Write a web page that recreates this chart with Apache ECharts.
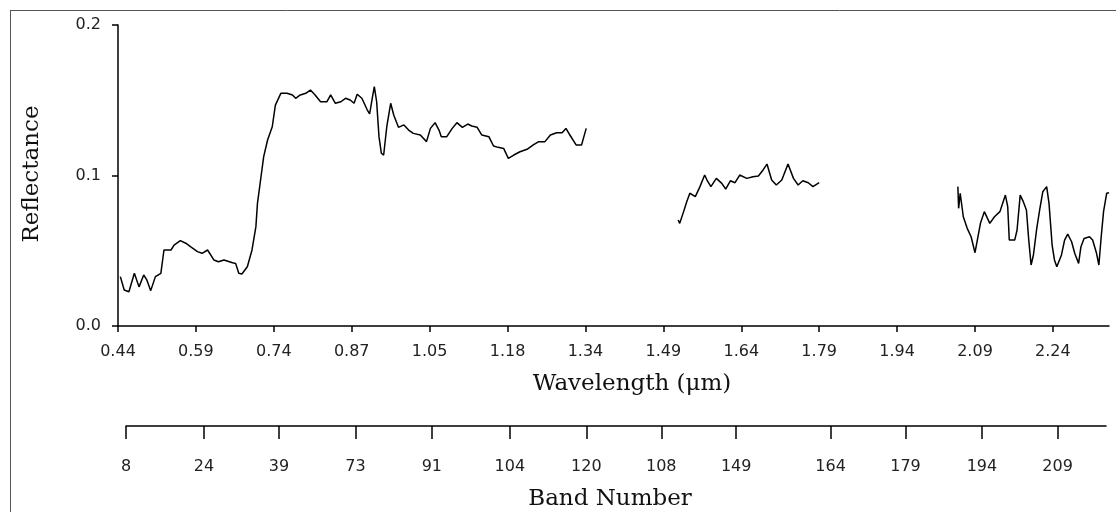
<!DOCTYPE html>
<html>
<head>
<meta charset="utf-8">
<script src="https://cdn.jsdelivr.net/npm/echarts@6/dist/echarts.min.js"></script>
<style>
html,body{margin:0;padding:0;background:#fff;}
#chart{width:1116px;height:512px;}
</style>
</head>
<body>
<div id="chart"></div>
<script>
// Wavelength tick labels (equally spaced positions 0..12 on the plot axis)
const wavelengthLabels = ['0.44','0.59','0.74','0.87','1.05','1.18','1.34','1.49','1.64','1.79','1.94','2.09','2.24'];
// Band number tick labels and their positions (in wavelength-tick units)
const bandLabels = ['8','24','39','73','91','104','120','108','149','164','179','194','209'];
const bandPos = [0.11,1.11,2.07,3.05,4.03,5.03,6.01,6.97,7.93,9.14,10.10,11.08,12.05];
const yTicks = [0, 0.1, 0.2];

// Segment 1 (VNIR/SWIR up to 1.34 µm)
const seg1X = [0.03,0.08,0.14,0.21,0.27,0.33,0.37,0.42,0.48,0.55,0.59,0.68,0.72,0.80,0.87,0.93,1.02,1.08,1.15,1.23,1.29,1.36,1.47,1.51,1.55,1.59,1.66,1.72,1.77,1.79,1.83,1.87,1.92,1.98,2.02,2.09,2.17,2.24,2.28,2.34,2.41,2.47,2.53,2.60,2.68,2.73,2.79,2.86,2.92,2.98,3.03,3.07,3.13,3.20,3.23,3.26,3.29,3.32,3.35,3.38,3.41,3.45,3.50,3.54,3.60,3.67,3.73,3.79,3.88,3.96,4.01,4.07,4.12,4.15,4.22,4.29,4.35,4.42,4.49,4.54,4.61,4.67,4.76,4.82,4.88,4.95,5.01,5.08,5.16,5.25,5.33,5.40,5.48,5.55,5.63,5.70,5.75,5.80,5.88,5.95,5.98,6.01];
const seg1Y = [0.0328,0.0239,0.0228,0.035,0.026,0.0339,0.0306,0.0235,0.0328,0.035,0.0505,0.0505,0.0538,0.0567,0.055,0.0527,0.0494,0.0483,0.0505,0.0439,0.0427,0.0439,0.042,0.0416,0.035,0.0346,0.0394,0.0505,0.066,0.0815,0.097,0.1125,0.1236,0.1324,0.1468,0.1546,0.1546,0.1535,0.1513,0.1535,0.1546,0.1568,0.1535,0.149,0.149,0.1535,0.148,0.149,0.1513,0.1502,0.148,0.154,0.1513,0.1435,0.1409,0.1502,0.159,0.149,0.1258,0.1148,0.1136,0.1324,0.148,0.140,0.132,0.1336,0.1302,0.128,0.1269,0.1225,0.1313,0.1351,0.1302,0.1258,0.1258,0.1313,0.1351,0.132,0.1342,0.1329,0.132,0.1269,0.1258,0.1196,0.1187,0.118,0.1114,0.1136,0.1158,0.1174,0.1203,0.1225,0.1225,0.1269,0.1284,0.1284,0.1313,0.1269,0.1203,0.1203,0.1258,0.1313];

// Segment 2 (around 1.5-1.8 µm)
const seg2X = [7.19,7.21,7.26,7.30,7.34,7.41,7.47,7.53,7.56,7.61,7.68,7.75,7.80,7.86,7.92,7.98,8.07,8.15,8.22,8.28,8.33,8.39,8.45,8.52,8.60,8.67,8.73,8.79,8.86,8.92,9.00];
const seg2Y = [0.0704,0.0682,0.076,0.0826,0.0882,0.086,0.0926,0.1003,0.097,0.0926,0.0981,0.0948,0.091,0.0965,0.0952,0.1003,0.0981,0.0992,0.0997,0.1037,0.1076,0.097,0.0937,0.097,0.1076,0.0981,0.0937,0.0965,0.0952,0.0926,0.0952];

// Segment 3 (around 2.05-2.4 µm)
const seg3X = [10.78,10.79,10.81,10.85,10.90,10.95,11.00,11.03,11.07,11.12,11.19,11.25,11.32,11.39,11.42,11.44,11.51,11.54,11.58,11.62,11.66,11.69,11.72,11.75,11.79,11.83,11.87,11.92,11.95,11.99,12.02,12.05,12.11,12.15,12.19,12.24,12.28,12.33,12.36,12.40,12.47,12.51,12.56,12.59,12.62,12.65,12.69,12.72];
const seg3Y = [0.0926,0.0782,0.0882,0.0726,0.0649,0.0593,0.0487,0.0571,0.0682,0.076,0.0682,0.0726,0.076,0.087,0.0793,0.0571,0.0571,0.0638,0.087,0.0826,0.0771,0.0571,0.0405,0.0472,0.0638,0.0771,0.0892,0.0926,0.0815,0.0538,0.0439,0.0394,0.0472,0.0571,0.0611,0.056,0.0483,0.0416,0.0527,0.0582,0.0593,0.0571,0.0483,0.0405,0.0593,0.076,0.0882,0.0886];

const zip = (xs, ys) => xs.map((x, i) => [x, ys[i]]);
const tickFont = {fontFamily: 'DejaVu Sans', fontSize: 16, color: '#222'};
const serif = 'DejaVu Serif';

const chart = echarts.init(document.getElementById('chart'), null, {renderer: 'canvas'});
const lineStyle = {color: '#000', width: 1.5};
chart.setOption({
  animation: false,
  backgroundColor: '#fff',
  grid: [
    {left: 118, right: 7, top: 25, bottom: 186},
    {left: 126, right: 10, top: 425, height: 1}
  ],
  xAxis: [
    {
      gridIndex: 0, type: 'value', min: 0, max: 12.72,
      axisLine: {show: true, onZero: false, lineStyle: {color: '#000', width: 1.5}},
      axisTick: {show: true, length: 6, lineStyle: {color: '#000', width: 1.5}, customValues: wavelengthLabels.map((_, i) => i)},
      axisLabel: Object.assign({margin: 18, customValues: wavelengthLabels.map((_, i) => i),
        formatter: v => wavelengthLabels[Math.round(v)]}, tickFont),
      splitLine: {show: false}
    },
    {
      gridIndex: 1, type: 'value', min: 0.11, max: 12.67,
      axisLine: {show: true, onZero: false, lineStyle: {color: '#000', width: 1.5}},
      axisTick: {show: true, length: 13, lineStyle: {color: '#000', width: 1.5}, customValues: bandPos},
      axisLabel: Object.assign({margin: 33, customValues: bandPos,
        formatter: v => {
          let best = 0;
          bandPos.forEach((p, i) => { if (Math.abs(p - v) < Math.abs(bandPos[best] - v)) best = i; });
          return bandLabels[best];
        }}, tickFont),
      splitLine: {show: false}
    }
  ],
  yAxis: [
    {
      gridIndex: 0, type: 'value', min: 0, max: 0.2, interval: 0.1,
      axisLine: {show: true, lineStyle: {color: '#000', width: 1.5}},
      axisTick: {show: true, length: 6, lineStyle: {color: '#000', width: 1.5}},
      axisLabel: Object.assign({margin: 17, formatter: v => v.toFixed(1)}, tickFont),
      splitLine: {show: false}
    },
    {
      gridIndex: 1, type: 'value', min: 0, max: 1, show: false
    }
  ],
  series: [
    {type: 'line', xAxisIndex: 0, yAxisIndex: 0, data: zip(seg1X, seg1Y), showSymbol: false, lineStyle: lineStyle, silent: true},
    {type: 'line', xAxisIndex: 0, yAxisIndex: 0, data: zip(seg2X, seg2Y), showSymbol: false, lineStyle: lineStyle, silent: true},
    {type: 'line', xAxisIndex: 0, yAxisIndex: 0, data: zip(seg3X, seg3Y), showSymbol: false, lineStyle: lineStyle, silent: true}
  ],
  graphic: [
    {type: 'line', shape: {x1: 10, y1: 10.5, x2: 1116, y2: 10.5}, style: {stroke: '#555', lineWidth: 1}, silent: true},
    {type: 'line', shape: {x1: 10.5, y1: 10, x2: 10.5, y2: 512}, style: {stroke: '#555', lineWidth: 1}, silent: true},
    {type: 'text', x: 32, y: 174, rotation: Math.PI / 2, style: {text: 'Reflectance', font: '23px "' + serif + '"', fill: '#111', align: 'center', verticalAlign: 'middle'}},
    {type: 'text', x: 632, y: 384, style: {text: 'Wavelength (μm)', font: '23px "' + serif + '"', fill: '#111', align: 'center', verticalAlign: 'middle'}},
    {type: 'text', x: 610, y: 499, style: {text: 'Band Number', font: '23px "' + serif + '"', fill: '#111', align: 'center', verticalAlign: 'middle'}}
  ]
});
</script>
</body>
</html>
